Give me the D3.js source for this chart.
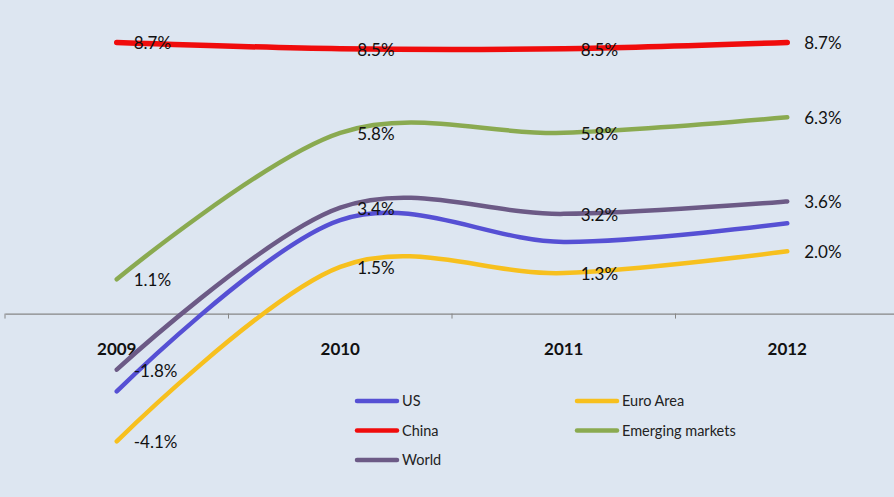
<!DOCTYPE html>
<html>
<head>
<meta charset="utf-8">
<title>GDP growth</title>
<script src="https://cdn.jsdelivr.net/npm/d3@7"></script>
<style>
  body { margin: 0; background: #dde6f1; }
  svg { display: block; }
</style>
</head>
<body>
<script>
// data
var years = ["2009", "2010", "2011", "2012"];
var seriesNames = ["US", "Euro Area", "China", "Emerging markets", "World"];
var usValues = [-2.5, 3.0, 2.3, 2.9];
var euroValues = [-4.1, 1.5, 1.3, 2.0];
var chinaValues = [8.7, 8.5, 8.5, 8.7];
var emergingValues = [1.1, 5.8, 5.8, 6.3];
var worldValues = [-1.8, 3.4, 3.2, 3.6];
var seriesColors = ["#5650d4", "#f7c01e", "#f00c0c", "#8aaa50", "#6c5a86"];
var showLabels = [false, true, true, true, true];

var width = 894, height = 497;
var values = [usValues, euroValues, chinaValues, emergingValues, worldValues];

var series = seriesNames.map(function (name, i) {
    return {name: name, color: seriesColors[i], labels: showLabels[i],
        points: years.map(function (y, j) { return {year: y, v: values[i][j]}; })};
});

var svg = d3.select("body").append("svg")
    .attr("width", width)
    .attr("height", height);

svg.append("rect")
    .attr("width", width).attr("height", height)
    .attr("fill", "#dde6f1");

// plot area runs a little past the right edge, like the original
var x = d3.scaleBand().domain(years).range([5, 899]).padding(0);
var y = d3.scaleLinear().domain([-6, 10]).range([500.5, 2]);

function cx(d) { return x(d) + x.bandwidth() / 2; }

// category axis on zero
var axisG = svg.append("g")
    .attr("transform", "translate(0," + y(0) + ")")
    .call(d3.axisBottom(x).tickSize(0).tickPadding(29));

axisG.select(".domain").attr("stroke", "#868686").attr("stroke-width", 1.2);
axisG.selectAll("text")
    .attr("font-family", "Lato, sans-serif")
    .attr("font-weight", "bold")
    .attr("font-size", 17)
    .attr("fill", "#111");

// tick marks between categories
axisG.selectAll("line.sep")
    .data(years)
    .enter().append("line")
    .attr("class", "sep")
    .attr("x1", function (d) { return x(d); })
    .attr("x2", function (d) { return x(d); })
    .attr("y1", 0).attr("y2", 5)
    .attr("stroke", "#868686");

var line = d3.line()
    .x(function (d) { return cx(d.year); })
    .y(function (d) { return y(d.v); })
    .curve(d3.curveCardinal.tension(0));

svg.selectAll("path.series")
    .data(series)
    .enter().append("path")
    .attr("class", "series")
    .attr("d", function (d) { return line(d.points); })
    .attr("fill", "none")
    .attr("stroke", function (d) { return d.color; })
    .attr("stroke-width", function (d) { return d.name == "China" ? 5.5 : 4.5; })
    .attr("stroke-linecap", "round");

// data labels, right of each point
series.filter(function (s) { return s.labels; }).forEach(function (s) {
    svg.selectAll(null)
        .data(s.points)
        .enter().append("text")
        .attr("x", function (d) { return cx(d.year) + 17; })
        .attr("y", function (d) { return y(d.v) + 1; })
        .attr("dy", "0.35em")
        .attr("font-family", "Lato, sans-serif")
        .attr("font-size", 17)
        .attr("fill", "#111")
        .text(function (d) { return d.v.toFixed(1) + "%"; });
});

// legend, two columns
var legend = svg.append("g");
var item = legend.selectAll("g")
    .data(series)
    .enter().append("g")
    .attr("transform", function (d, i) {
        return "translate(" + (357 + (i % 2) * 220) + "," + (401 + Math.floor(i / 2) * 29.5) + ")";
    });

item.append("line")
    .attr("x1", 0).attr("x2", 40)
    .attr("stroke", function (d) { return d.color; })
    .attr("stroke-width", 4.5)
    .attr("stroke-linecap", "round");

item.append("text")
    .attr("x", 45)
    .attr("dy", "0.35em")
    .attr("font-family", "Lato, sans-serif")
    .attr("font-size", 14.5)
    .attr("fill", "#222")
    .text(function (d) { return d.name; });
</script>
</body>
</html>
